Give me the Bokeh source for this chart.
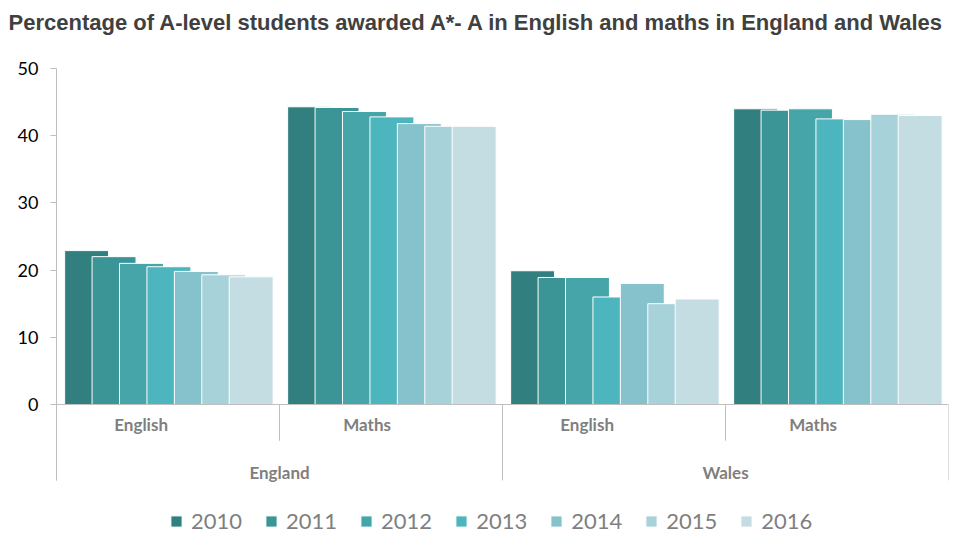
from bokeh.plotting import figure
from bokeh.models import FactorRange, ColumnDataSource, Legend, LegendItem, Range1d, FixedTicker, Title
from bokeh.transform import dodge
from bokeh.embed import file_html
from bokeh.resources import INLINE

title_text = "Percentage of A-level students awarded A*- A in English and maths in England and Wales"
countries = ["England", "England", "Wales", "Wales"]
subjects = ["English", "Maths", "English", "Maths"]
years = ["2010", "2011", "2012", "2013", "2014", "2015", "2016"]
v2010 = [22.9, 44.3, 19.9, 44.0]
v2011 = [22.0, 44.2, 18.9, 43.8]
v2012 = [21.0, 43.6, 18.9, 44.0]
v2013 = [20.5, 42.8, 16.0, 42.5]
v2014 = [19.8, 41.8, 18.0, 42.4]
v2015 = [19.3, 41.4, 15.0, 43.2]
v2016 = [19.0, 41.4, 15.7, 43.0]
series = [v2010, v2011, v2012, v2013, v2014, v2015, v2016]
colors = ["#327f80", "#3b9597", "#45a5a8", "#4db5bd", "#86c2cb", "#a7d2da", "#c4dde3"]
y_ticks = [0, 10, 20, 30, 40, 50]

# layout helpers: value-space extent of the axis area and legend strip below zero
y_sep_bottom = -11.31
y_frame_bottom = -21.58
sep_pos = [0, 1, 2, 3, 4]
sep_depth = [y_sep_bottom, -5.4, y_sep_bottom, -5.4, y_sep_bottom]

factors = list(zip(countries, subjects))
data = {"x": factors}
for y, s in zip(years, series):
    data[y] = s
src = ColumnDataSource(data)

xr = FactorRange(*factors, range_padding=0, group_padding=0, subgroup_padding=0, factor_padding=0)
p = figure(frame_width=892, frame_height=481, x_range=xr, y_range=Range1d(y_frame_bottom, 50),
           output_backend="svg", toolbar_location=None, title=title_text)
p.title.text_font = "Liberation Sans"
p.title.text_font_size = "22px"
p.title.text_font_style = "bold"
p.title.text_color = "#404040"
p.title.offset = -48
p.title.standoff = 0
# spacer between title and plot area
p.add_layout(Title(text=" ", text_font_size="26px", standoff=2), "above")
p.min_border_left = 56
p.min_border_right = 28
p.min_border_top = 68
p.min_border_bottom = 0
p.outline_line_color = None
p.grid.grid_line_color = None
p.background_fill_color = "white"
p.border_fill_color = "white"

step = 0.123
width = 0.197
items = []
for i, y in enumerate(years):
    r = p.vbar(x=dodge("x", (i - 3) * step + 0.004, range=p.x_range), top=y, width=width,
               source=src, fill_color=colors[i], line_color="white", line_width=1)
    items.append(LegendItem(label=y, renderers=[r]))

p.segment(x0=sep_pos, y0=[0] * len(sep_pos), x1=sep_pos, y1=sep_depth,
          line_color="#bfbfbf", line_width=1)

p.yaxis.ticker = FixedTicker(ticks=y_ticks)
p.yaxis.bounds = (y_sep_bottom, 50)
p.yaxis.axis_line_color = "#bfbfbf"
p.yaxis.major_tick_line_color = "#bfbfbf"
p.yaxis.major_tick_out = 6
p.yaxis.major_tick_in = 0
p.yaxis.minor_tick_line_color = None
p.yaxis.major_label_text_font = "Lato"
p.yaxis.major_label_text_font_size = "18px"
p.yaxis.major_label_text_color = "#000000"
p.yaxis.major_label_standoff = 12

p.xaxis.fixed_location = 0
p.xaxis.axis_line_color = "#bfbfbf"
p.xaxis.major_tick_line_color = None
p.xaxis.minor_tick_line_color = None
p.xaxis.major_label_text_font = "Lato"
p.xaxis.major_label_text_font_size = "17px"
p.xaxis.major_label_text_font_style = "bold"
p.xaxis.major_label_text_color = "#7f7f7f"
p.xaxis.group_text_font = "Lato"
p.xaxis.group_text_font_size = "17px"
p.xaxis.group_text_font_style = "bold"
p.xaxis.group_text_color = "#7f7f7f"
p.xaxis.separator_line_color = None
p.xaxis.major_label_standoff = 14
p.xaxis.major_label_orientation = 0

legend = Legend(items=items, orientation="horizontal", location=(113, 15))
legend.label_text_font = "Lato"
legend.label_text_font_size = "22px"
legend.label_text_color = "#7f7f7f"
legend.glyph_width = 14
legend.glyph_height = 14
legend.spacing = 22
legend.label_standoff = 8
legend.border_line_color = None
legend.background_fill_alpha = 0
legend.margin = 0
legend.padding = 2
p.add_layout(legend, "center")

open("out.html", "w").write(file_html(p, INLINE))
